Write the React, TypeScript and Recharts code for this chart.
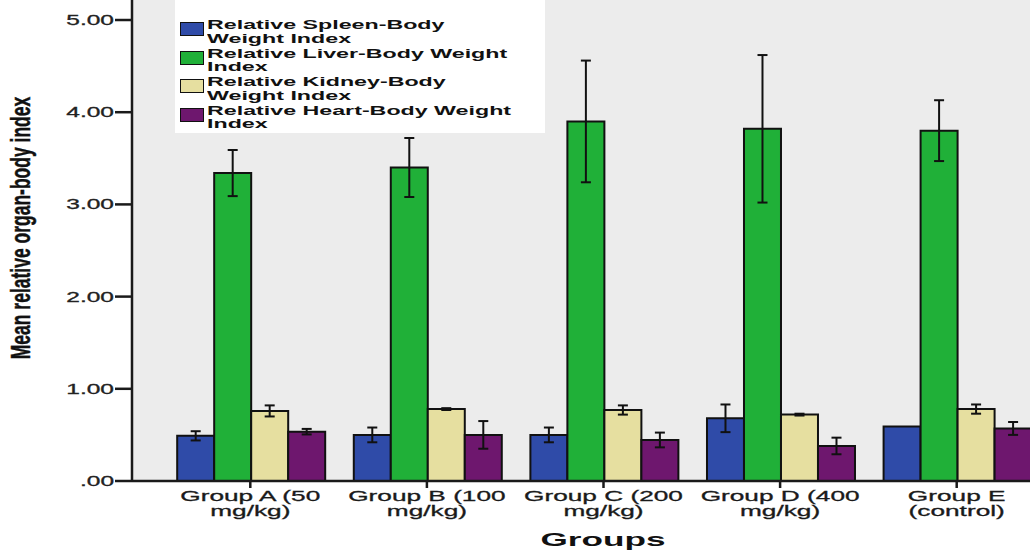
import { BarChart, Bar, XAxis, YAxis, CartesianGrid, ErrorBar, Legend, Label } from "recharts";

const groups = [
  "Group A (50 mg/kg)",
  "Group B (100 mg/kg)",
  "Group C (200 mg/kg)",
  "Group D (400 mg/kg)",
  "Group E (control)",
];

const spleen = [0.49, 0.5, 0.5, 0.68, 0.59];
const spleenErr = [0.05, 0.08, 0.08, 0.15, null];
const liver = [3.34, 3.4, 3.9, 3.82, 3.8];
const liverErr = [0.25, 0.32, 0.66, 0.8, 0.33];
const kidney = [0.76, 0.78, 0.77, 0.72, 0.78];
const kidneyErr = [0.06, 0.01, 0.05, 0.01, 0.05];
const heart = [0.535, 0.5, 0.445, 0.38, 0.57];
const heartErr = [0.03, 0.15, 0.08, 0.09, 0.07];

const yTicks = [0, 1, 2, 3, 4, 5];

const series = [
  { key: "spleen", name: "Relative Spleen-Body Weight Index", color: "#2f4ba8" },
  { key: "liver", name: "Relative Liver-Body Weight Index", color: "#20b038" },
  { key: "kidney", name: "Relative Kidney-Body Weight Index", color: "#e6dfa0" },
  { key: "heart", name: "Relative Heart-Body Weight Index", color: "#6e176e" },
];

const data = groups.map((g, i) => ({
  group: g,
  spleen: spleen[i],
  spleenErr: spleenErr[i],
  liver: liver[i],
  liverErr: liverErr[i],
  kidney: kidney[i],
  kidneyErr: kidneyErr[i],
  heart: heart[i],
  heartErr: heartErr[i],
}));

const FONT = "'Liberation Sans', Arial, sans-serif";
const AXIS = "#1a1a1a";
const STRETCH = 1.75;

// wrap text into lines of at most n characters
function wrap(text: string, n: number) {
  const lines: string[] = [];
  let cur = "";
  text.split(" ").forEach((w) => {
    const next = cur ? cur + " " + w : w;
    if (next.length > n && cur) {
      lines.push(cur);
      cur = w;
    } else cur = next;
  });
  if (cur) lines.push(cur);
  return lines;
}

function splitLast(s: string) {
  const i = s.lastIndexOf(" ");
  return [s.slice(0, i), s.slice(i + 1)];
}

const XTick = (props: any) => {
  const { x, y, payload } = props;
  const lines = splitLast(payload.value);
  return (
    <g transform={`translate(${x},${y})`}>
      <text
        transform={`scale(${STRETCH},1)`}
        textAnchor="middle"
        fontFamily={FONT}
        fontSize={15}
        fill="#1a1a1a"
        stroke="#1a1a1a"
        strokeWidth={0.3}
      >
        {lines.map((l, i) => (
          <tspan key={i} x={0} dy={i === 0 ? 11 : 15}>
            {l}
          </tspan>
        ))}
      </text>
    </g>
  );
};

const YTick = (props: any) => {
  const { x, y, payload } = props;
  const label = payload.value === 0 ? ".00" : payload.value.toFixed(2);
  return (
    <g transform={`translate(${x},${y})`}>
      <text
        transform={`scale(${STRETCH},1)`}
        textAnchor="end"
        dy="0.35em"
        fontFamily={FONT}
        fontSize={14}
        fill="#222"
        stroke="#222"
        strokeWidth={0.3}
      >
        {label}
      </text>
    </g>
  );
};

const YTitle = () => (
  <g transform="translate(30,228) rotate(-90) scale(1,1.55)">
    <text
      textAnchor="middle"
      fontFamily="'Liberation Sans Narrow', 'Arial Narrow', sans-serif"
      fontWeight="bold"
      fontSize={17.5}
      fill="#111"
      stroke="#111"
      strokeWidth={0.3}
    >
      Mean relative organ-body index
    </text>
  </g>
);

const XTitle = () => (
  <g transform="translate(603,546)">
    <text transform="scale(1.85,1)" textAnchor="middle" fontFamily={FONT} fontWeight="bold" fontSize={19} fill="#111">
      Groups
    </text>
  </g>
);

const renderLegend = () => (
  <div style={{ position: "relative", width: 370, height: 133, background: "#fff" }}>
    {series.map((s, i) => {
      const lines = wrap(s.name, 26);
      return (
        <div key={s.key} style={{ position: "absolute", left: 0, top: 20 + i * 28.6 }}>
          <div
            style={{
              position: "absolute",
              left: 5,
              top: 2,
              width: 22,
              height: 12,
              background: s.color,
              border: "1px solid #111",
            }}
          />
          <div
            style={{
              position: "absolute",
              left: 32,
              top: -2,
              whiteSpace: "nowrap",
              fontFamily: FONT,
              fontWeight: "bold",
              fontSize: 13.5,
              lineHeight: "13.5px",
              color: "#111",
              transform: "scaleX(1.72)",
              transformOrigin: "left top",
            }}
          >
            {lines.map((l) => (
              <div key={l}>{l}</div>
            ))}
          </div>
        </div>
      );
    })}
  </div>
);

export default function App() {
  return (
    <div style={{ position: "absolute", left: 0, top: 0, width: 1030, height: 551, overflow: "hidden", background: "#fff" }}>
      <BarChart
        width={1045}
        height={551}
        data={data}
        margin={{ top: 0, right: 0, bottom: 30, left: 0 }}
        barGap={0}
        barCategoryGap="8.6%"
      >
        <CartesianGrid fill="#ececec" stroke="none" horizontal={false} vertical={false} />
        <XAxis
          dataKey="group"
          interval={0}
          height={40}
          padding={{ left: 30, right: 0 }}
          tickSize={7}
          tick={<XTick />}
          axisLine={{ stroke: AXIS, strokeWidth: 2.5 }}
          tickLine={{ stroke: AXIS, strokeWidth: 2.5 }}
        >
          <Label content={<XTitle />} />
        </XAxis>
        <YAxis
          width={132}
          domain={[0, 5.217]}
          ticks={yTicks}
          tickSize={17}
          tickMargin={1}
          tick={<YTick />}
          axisLine={{ stroke: AXIS, strokeWidth: 2.5 }}
          tickLine={{ stroke: AXIS, strokeWidth: 2.5 }}
        >
          <Label content={<YTitle />} />
        </YAxis>
        <Legend
          content={renderLegend}
          verticalAlign="middle"
          align="center"
          wrapperStyle={{ position: "absolute", left: 175, top: 0, width: 370, height: 133 }}
        />
        {series.map((s) => (
          <Bar
            key={s.key}
            dataKey={s.key}
            name={s.name}
            fill={s.color}
            stroke="#111"
            strokeWidth={2}
            isAnimationActive={false}
          >
            <ErrorBar dataKey={s.key + "Err"} width={5} stroke="#111" strokeWidth={2} direction="y" isAnimationActive={false} />
          </Bar>
        ))}
      </BarChart>
    </div>
  );
}
